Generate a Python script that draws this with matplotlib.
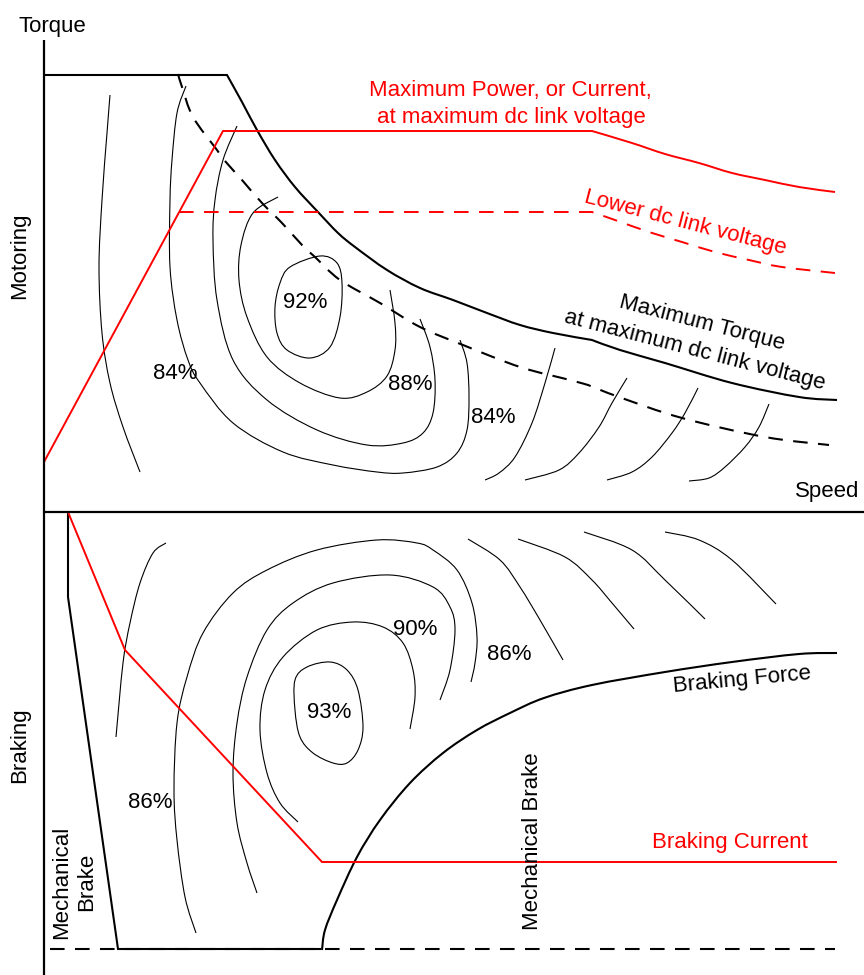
import matplotlib
matplotlib.use("Agg")
import matplotlib.pyplot as plt
from matplotlib.path import Path
from matplotlib.patches import PathPatch
import numpy as np

plt.rcParams['font.family'] = ['Liberation Sans', 'DejaVu Sans']
plt.rcParams['lines.scale_dashes'] = False

# ---- speed (s) / torque (t) readings; t > 0 motoring, t < 0 braking ----
# Maximum torque envelope at maximum dc link voltage
max_torque_flat = [(0, 437), (183, 437)]
max_torque_knee = [(183, 437), (198, 410), (213, 382), (231, 352), (251, 325), (274, 300),
                   (294, 279), (311, 265), (343, 242), (376, 224), (409, 212), (443, 199),
                   (476, 187), (509, 179), (548, 172)]
max_torque_tail = [(548, 172), (576, 162), (621, 149), (688, 129), (755, 115), (793, 112)]

# Maximum torque at lower dc link voltage
low_torque_knee = [(134, 438), (138, 425), (149, 395), (173, 362), (181, 351), (198, 332),
                   (218, 309), (238, 289), (258, 267), (271, 255), (296, 232), (336, 209),
                   (376, 185), (419, 167), (476, 145), (526, 132), (544, 127)]
low_torque_tail = [(544, 127), (575, 115), (638, 94), (721, 75), (785, 67)]

# Maximum power / current at maximum dc link voltage
power_ramp = [(0, 50), (179, 381)]
power_flat = [(179, 381), (548, 381)]
power_tail = [(548, 381), (588, 369), (621, 358), (655, 349), (688, 339), (721, 332),
              (755, 325), (791, 320)]

# Power at lower dc link voltage
low_power_flat = [(135, 300), (548, 300)]
low_power_tail = [(548, 300), (571, 292), (605, 280), (638, 270), (671, 260), (705, 252),
                  (738, 245), (791, 239)]

# Motoring efficiency contours
mot_c1 = [(66, 417), (63, 379), (58, 312), (55, 245), (58, 179), (66, 129), (79, 85), (96, 40)]
mot_c2 = [(142, 426), (133, 399), (128, 352), (126, 312), (126, 245), (133, 192), (144, 152),
          (156, 129), (189, 89), (239, 60), (289, 47), (333, 40), (359, 39), (393, 45),
          (413, 59), (423, 82), (425, 115), (423, 149), (416, 172)]
mot_c3 = [(193, 386), (179, 352), (171, 312), (169, 272), (173, 212), (189, 152), (223, 112),
          (273, 82), (323, 67), (359, 69), (379, 79), (389, 99), (391, 132), (386, 165),
          (376, 193)]
mot_c4 = [(234, 315), (209, 299), (197, 267), (195, 232), (203, 195), (223, 155), (256, 129),
          (296, 114), (323, 120), (343, 136), (351, 162), (351, 189), (346, 222)]
mot_c5 = [(246, 245), (276, 256), (293, 249), (298, 229), (296, 195), (286, 165), (266, 154),
          (243, 162), (233, 179), (231, 205), (236, 229), (246, 245)]
mot_d1 = [(511, 164), (501, 129), (488, 89), (471, 55), (455, 39), (441, 32)]
mot_d2 = [(583, 134), (568, 109), (555, 85), (535, 59), (515, 42), (481, 32)]
mot_d3 = [(654, 124), (641, 99), (628, 79), (608, 55), (588, 40), (563, 32)]
mot_d4 = [(725, 108), (715, 85), (701, 65), (681, 45), (665, 34), (645, 31)]

# Braking curves
brake_limit = [(24, 0), (24, -85), (74, -437), (277, -437)]
brake_floor = [(6, -437), (791, -437)]
braking_force = [(278, -438), (281, -418), (293, -388), (313, -345), (336, -308), (366, -271),
                 (399, -241), (433, -218), (466, -201), (500, -186), (548, -173), (621, -160),
                 (688, -150), (755, -142), (793, -141)]
braking_current = [(24, 0), (81, -138), (278, -350), (793, -350)]

# Braking efficiency contours
brk_e1 = [(122, -31), (109, -41), (96, -71), (86, -111), (79, -151), (72, -225)]
brk_e2 = [(152, -421), (141, -385), (133, -328), (130, -278), (133, -211), (143, -165),
          (159, -121), (189, -81), (223, -58), (273, -38), (333, -28), (373, -31), (389, -38),
          (413, -58), (428, -91), (433, -125), (431, -151), (427, -170)]
brk_e3 = [(213, -381), (203, -351), (193, -311), (189, -261), (193, -211), (203, -165),
          (223, -118), (249, -91), (289, -71), (346, -63), (389, -75), (406, -95), (411, -118),
          (406, -158), (396, -188)]
brk_e4 = [(254, -310), (236, -291), (223, -261), (216, -218), (221, -178), (239, -145),
          (273, -118), (309, -110), (339, -115), (359, -131), (369, -158), (371, -185),
          (366, -217)]
brk_e5 = [(251, -168), (263, -155), (286, -150), (303, -158), (314, -178), (319, -215),
          (314, -238), (303, -251), (289, -251), (269, -241), (256, -225), (251, -198),
          (251, -168)]
brk_f1 = [(424, -27), (456, -48), (476, -75), (496, -108), (519, -148)]
brk_f2 = [(474, -27), (521, -45), (548, -68), (568, -91), (590, -117)]
brk_f3 = [(540, -20), (588, -38), (621, -68), (661, -107)]
brk_f4 = [(621, -20), (655, -28), (688, -48), (732, -92)]


def smooth(pieces, closed=False):
    """Chain of Catmull-Rom pieces rendered as cubic Bezier segments."""
    verts, codes = [], []
    for k, pts in enumerate(pieces):
        p = np.asarray(pts, float)
        if closed:
            ext = np.vstack([p[-2], p, p[1]])
        else:
            ext = np.vstack([p[0], p, p[-1]])
        if k == 0:
            verts.append(p[0])
            codes.append(Path.MOVETO)
        for i in range(1, len(ext) - 2):
            p0, p1, p2, p3 = ext[i - 1], ext[i], ext[i + 1], ext[i + 2]
            verts += [p1 + (p2 - p0) / 6.0, p2 - (p3 - p1) / 6.0, p2]
            codes += [Path.CURVE4] * 3
    return Path(verts, codes)


fig = plt.figure(figsize=(8.64, 9.75), dpi=100)
ax = fig.add_axes([0, 0, 1, 1])
ax.set_xlim(-44, 820)
ax.set_ylim(-463, 512)
ax.axis('off')

RED = '#ff0000'
DASH = (0, (10.5, 7.5))


def draw(pieces, color='black', lw=1.5, ls='-', closed=False, z=3):
    ax.add_patch(PathPatch(smooth(pieces, closed), fill=False, edgecolor=color,
                           linewidth=lw, linestyle=ls, capstyle='butt',
                           joinstyle='miter', zorder=z))


# Efficiency contours
for c in [mot_c1, mot_c2, mot_c3, mot_c4, mot_d1, mot_d2, mot_d3, mot_d4,
          brk_e1, brk_e2, brk_e3, brk_e4, brk_f1, brk_f2, brk_f3, brk_f4]:
    draw([c], lw=0.8, z=2)
draw([mot_c5], lw=0.8, closed=True, z=2)
draw([brk_e5], lw=0.8, closed=True, z=2)

# Axes
ax.plot([0, 0], [472, -463], color='black', lw=1.6, zorder=4, solid_capstyle='butt')
ax.plot([0, 820], [0, 0], color='black', lw=1.6, zorder=4, solid_capstyle='butt')

# Motoring envelopes
draw([max_torque_flat, max_torque_knee, max_torque_tail], lw=1.5)
draw([low_torque_knee, low_torque_tail], lw=1.5, ls=DASH)
draw([power_ramp, power_flat, power_tail], color=RED, lw=1.4)
draw([low_power_flat, low_power_tail], color=RED, lw=1.4, ls=DASH)

# Braking envelopes
draw([brake_floor], lw=1.5, ls=DASH)
draw([brake_limit[:2], brake_limit[1:3], brake_limit[2:]], lw=1.5)
draw([braking_force], lw=1.5)
draw([braking_current[:2], braking_current[1:3], braking_current[2:]], color=RED, lw=1.4)

FS = 16
txt = dict(fontsize=FS, zorder=5)
ax.text(8, 480, 'Torque', ha='center', va='baseline', **txt)
ax.text(783, 15, 'Speed', ha='center', va='baseline', **txt)
ax.text(-24, 256, 'Motoring', rotation=90, ha='center', va='center', **txt)
ax.text(-24, -233, 'Braking', rotation=90, ha='center', va='center', **txt)

ax.text(466, 416, 'Maximum Power, or Current,', color=RED, ha='center', va='baseline', **txt)
ax.text(467, 389, 'at maximum dc link voltage', color=RED, ha='center', va='baseline', **txt)
ax.text(640, 284, 'Lower dc link voltage', color=RED, rotation=-14.5, rotation_mode='anchor',
        ha='center', va='baseline', **txt)
ax.text(657, 184, 'Maximum Torque', rotation=-14.5, rotation_mode='anchor',
        ha='center', va='baseline', **txt)
ax.text(649, 156, 'at maximum dc link voltage', rotation=-14.5, rotation_mode='anchor',
        ha='center', va='baseline', **txt)

for s, t, lab in [(261, 204, '92%'), (131, 133, '84%'), (366, 122, '88%'), (449, 89, '84%'),
                  (371, -123, '90%'), (285.5, -206, '93%'), (106, -296, '86%'),
                  (465, -148, '86%')]:
    ax.text(s, t, lab, ha='center', va='baseline', **txt)

ax.text(699, -173, 'Braking Force', rotation=5.4, rotation_mode='anchor',
        ha='center', va='baseline', **txt)
ax.text(686, -336, 'Braking Current', color=RED, ha='center', va='baseline', **txt)
ax.text(489, -329, 'Mechanical Brake', rotation=90, ha='center', va='center', **txt)
ax.text(30, -370, 'Mechanical\nBrake', rotation=90, ha='center', va='center',
        multialignment='center', linespacing=1.25, **txt)

fig.savefig('out.png', dpi=100)
